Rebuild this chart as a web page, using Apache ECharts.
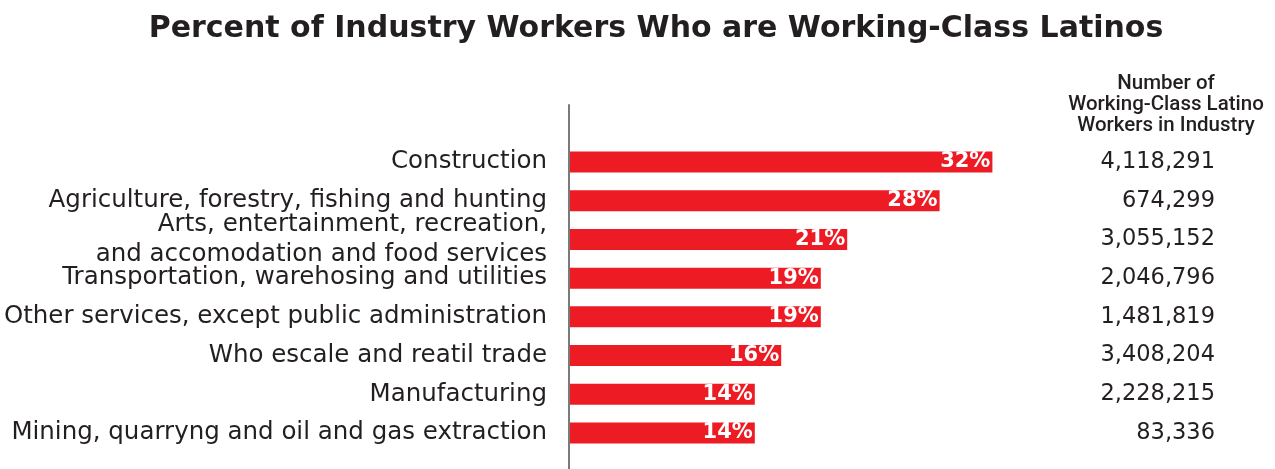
<!DOCTYPE html>
<html>
<head>
<meta charset="utf-8">
<script src="https://cdn.jsdelivr.net/npm/echarts@6/dist/echarts.min.js"></script>
<style>
  html, body { margin: 0; padding: 0; background: #ffffff; }
  #chart { width: 1275px; height: 469px; }
</style>
</head>
<body>
<div id="chart"></div>
<script>
// Industries, top to bottom
const industries = [
  'Construction',
  'Agriculture, forestry, fishing and hunting',
  'Arts, entertainment, recreation,\nand accomodation and food services',
  'Transportation, warehosing and utilities',
  'Other services, except public administration',
  'Who escale and reatil trade',
  'Manufacturing',
  'Mining, quarryng and oil and gas extraction'
];
// Share of each industry's workers who are working-class Latinos (%)
const percents = [32, 28, 21, 19, 19, 16, 14, 14];
// Number of working-class Latino workers in each industry
const workers = [4118291, 674299, 3055152, 2046796, 1481819, 3408204, 2228215, 83336];

const titleText = 'Percent of Industry Workers Who are Working-Class Latinos';
const headerText = 'Number of\nWorking-Class Latino\nWorkers in Industry';

const ink = '#231f20';
const red = '#ed1c24';
const wide = '"DejaVu Sans", sans-serif';

const chart = echarts.init(document.getElementById('chart'), null, { renderer: 'canvas' });

chart.setOption({
  animation: false,
  backgroundColor: '#ffffff',
  title: [
    {
      text: titleText,
      left: 651,
      top: 9,
      textAlign: 'center',
      textStyle: { fontFamily: wide, fontSize: 30, fontWeight: 'bold', color: ink }
    },
    {
      text: headerText,
      left: 1161,
      top: 68,
      textAlign: 'center',
      textStyle: {
        fontFamily: 'Roboto, sans-serif',
        fontSize: 20.5, fontWeight: 500, color: ink, lineHeight: 21
      }
    }
  ],
  grid: [
    { left: 570, width: 528, top: 142.6, bottom: 16.6, containLabel: false },
    // tall frame that only carries the vertical baseline
    { left: 569, width: 10, top: 105, bottom: -4, containLabel: false }
  ],
  xAxis: [
    { type: 'value', gridIndex: 0, min: 0, max: 40, show: false },
    { type: 'value', gridIndex: 1, min: 0, max: 1, show: false }
  ],
  yAxis: [
    {
      type: 'category',
      gridIndex: 0,
      data: industries,
      inverse: true,
      axisLine: { show: false },
      axisTick: { show: false },
      axisLabel: {
        margin: 23,
        fontFamily: wide,
        fontSize: 24.5,
        fontWeight: 'normal',
        color: ink,
        lineHeight: 30
      }
    },
    {
      type: 'category',
      gridIndex: 0,
      position: 'right',
      data: workers.map(v => v.toLocaleString('en-US')),
      inverse: true,
      axisLine: { show: false },
      axisTick: { show: false },
      axisLabel: {
        margin: 117,
        align: 'right',
        fontFamily: wide,
        fontSize: 22.5,
        fontWeight: 'normal',
        color: ink
      }
    },
    {
      type: 'value',
      gridIndex: 1,
      min: 0,
      max: 1,
      axisLine: { show: true, lineStyle: { color: '#7a7a7a', width: 2 } },
      axisTick: { show: false },
      axisLabel: { show: false },
      splitLine: { show: false }
    }
  ],
  series: [
    {
      type: 'bar',
      xAxisIndex: 0,
      yAxisIndex: 0,
      data: percents,
      barWidth: 21,
      itemStyle: { color: red },
      label: {
        show: true,
        position: 'insideRight',
        distance: 2,
        formatter: p => p.value + '%',
        fontFamily: wide,
        fontSize: 21,
        fontWeight: 'bold',
        color: '#ffffff'
      }
    }
  ]
});
</script>
</body>
</html>
